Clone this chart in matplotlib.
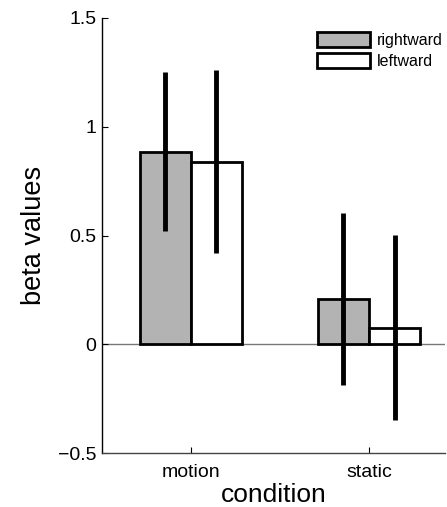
import numpy as np
import matplotlib
matplotlib.use('Agg')
import matplotlib.pyplot as plt
from matplotlib.patches import Patch

plt.rcParams['font.family'] = ['Liberation Sans', 'DejaVu Sans']

# data
conditions = ['motion', 'static']
series = ['rightward', 'leftward']
rightward = [0.886, 0.207]
leftward = [0.84, 0.077]
rightward_err = [0.367, 0.396]
leftward_err = [0.42, 0.427]
colors = ['#b3b3b3', 'white']

fig = plt.figure(figsize=(4.47, 5.07), dpi=100)
ax = fig.add_axes([0.228, 0.1065, 0.7675, 0.858])

x = np.arange(1, len(conditions) + 1)
w = 0.287
vals = [rightward, leftward]
errs = [rightward_err, leftward_err]
handles = []
for i in range(2):
    pos = x + (i - 0.5) * w
    ax.bar(pos, vals[i], width=w, color=colors[i], edgecolor='black', linewidth=2, zorder=2)
    ax.errorbar(pos, vals[i], yerr=errs[i], fmt='none', ecolor='black', elinewidth=3.5, capsize=0, zorder=3)
    handles.append(Patch(facecolor=colors[i], edgecolor='black', linewidth=2, label=series[i]))

ax.axhline(0, color='#777777', linewidth=1, zorder=1)

ax.set_xlim(0.5, 2.427)
ax.set_ylim(-0.5, 1.5)
ax.set_xticks(x)
ax.set_xticklabels(conditions)
ax.set_yticks([-0.5, 0, 0.5, 1, 1.5])
ax.set_yticklabels(['\u22120.5', '0', '0.5', '1', '1.5'])
ax.tick_params(direction='in', length=4, labelsize=14, width=0.8)
ax.tick_params(axis='x', pad=8)
ax.tick_params(axis='y', pad=4)

ax.spines['top'].set_visible(False)
ax.spines['right'].set_visible(False)
ax.spines['left'].set_linewidth(1)
ax.spines['bottom'].set_linewidth(1)
ax.spines['bottom'].set_color('#444444')

ax.set_xlabel('condition', fontsize=19, labelpad=1)
ax.set_ylabel('beta values', fontsize=19.5, labelpad=8)

fig.legend(handles=handles, loc='upper left', bbox_to_anchor=(317 / 447, 1 - 32 / 507),
           frameon=False, fontsize=11.5, handlelength=3.3, handleheight=1.05,
           handletextpad=0.45, labelspacing=0.35, borderpad=0, borderaxespad=0)

fig.savefig('out.png', dpi=100)
